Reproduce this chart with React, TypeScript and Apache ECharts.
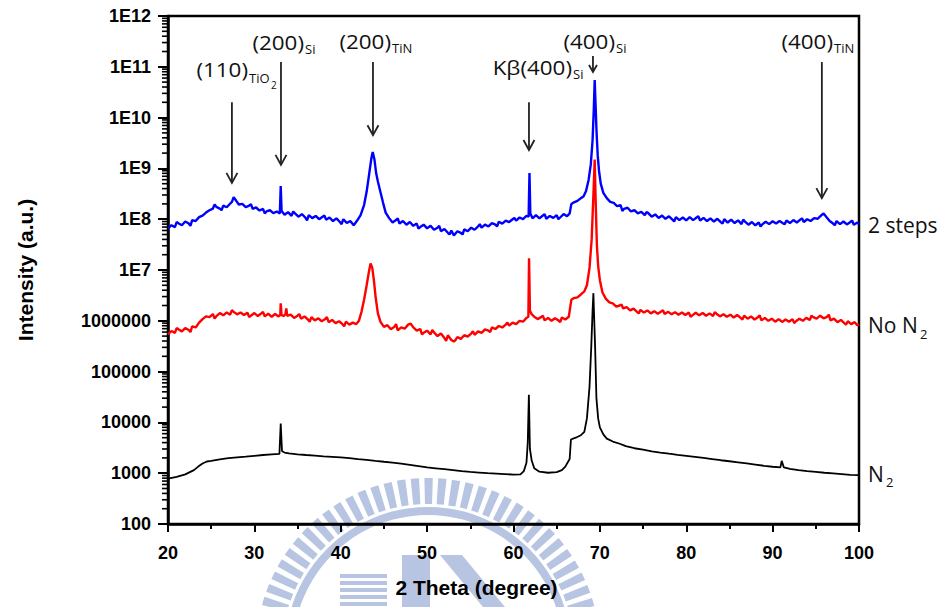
import React, { useEffect, useRef } from 'react';
import * as echarts from 'echarts';

// ---------- data ----------
const xTickValues = [20, 30, 40, 50, 60, 70, 80, 90, 100];
const yTickValues = [1e2, 1e3, 1e4, 1e5, 1e6, 1e7, 1e8, 1e9, 1e10, 1e11, 1e12];
const yTickLabels = ['100', '1000', '10000', '100000', '1000000', '1E7', '1E8', '1E9', '1E10', '1E11', '1E12'];

// 2 steps (blue)
const twoSteps: [number, number][] = [
  [20,6.6e7],[20.4,7.6e7],[20.8,7.0e7],[21.2,8.3e7],[21.6,7.6e7],[22,9.0e7],[22.4,8.2e7],[22.8,9.6e7],[23.2,9.2e7],[23.6,1.1e8],
  [24,1.18e8],[24.4,1.35e8],[24.8,1.5e8],[25.2,1.62e8],[25.6,1.75e8],[26,1.62e8],[26.4,1.85e8],[26.8,1.72e8],[27.1,1.95e8],[27.4,2.2e8],
  [27.6,2.7e8],[27.9,2.3e8],[28.2,1.95e8],[28.6,2.0e8],[29,1.72e8],[29.4,1.85e8],[29.8,1.6e8],[30.2,1.7e8],[30.6,1.48e8],[31,1.6e8],
  [31.4,1.42e8],[31.8,1.5e8],[32.2,1.32e8],[32.6,1.42e8],[32.95,1.3e8],[33.05,4.5e8],[33.15,1.45e8],[33.5,1.22e8],[33.9,1.38e8],[34.3,1.16e8],
  [34.7,1.3e8],[35.1,1.12e8],[35.5,1.26e8],[35.9,1.08e8],[36.3,1.2e8],[36.7,1.05e8],[37.1,1.16e8],[37.5,1.0e8],[37.9,1.12e8],[38.3,9.8e7],
  [38.7,1.08e8],[39.1,9.2e7],[39.5,1.04e8],[39.9,8.8e7],[40.3,1.0e8],[40.7,8.4e7],[41.1,9.2e7],[41.5,7.6e7],[41.9,9.4e7],[42.3,1.2e8],
  [42.7,1.9e8],[43.0,3.5e8],[43.3,8e8],[43.55,1.6e9],[43.7,2.1e9],[43.9,1.5e9],[44.1,8e8],[44.3,5.5e8],[44.6,3.4e8],[44.9,2.1e8],
  [45.2,1.35e8],[45.6,1.05e8],[46,8.6e7],[46.4,9.6e7],[46.8,8.2e7],[47.2,9.2e7],[47.6,7.8e7],[48,8.8e7],[48.4,7.4e7],[48.8,8.2e7],
  [49.2,7.0e7],[49.6,7.8e7],[50,6.6e7],[50.4,7.4e7],[50.8,6.2e7],[51.2,6.8e7],[51.6,5.8e7],[52,6.4e7],[52.4,5.4e7],[52.8,6.0e7],
  [53.1,4.8e7],[53.5,5.8e7],[53.9,5.4e7],[54.3,6.3e7],[54.7,5.8e7],[55.1,6.8e7],[55.5,6.2e7],[55.9,7.2e7],[56.3,6.8e7],[56.7,7.8e7],
  [57.1,7.2e7],[57.5,8.4e7],[57.9,7.8e7],[58.3,8.9e7],[58.7,8.2e7],[59.1,9.4e7],[59.5,8.8e7],[59.9,1.0e8],[60.3,9.4e7],[60.7,1.08e8],
  [61.1,1.0e8],[61.5,1.16e8],[61.75,1.12e8],[61.85,8.1e8],[61.95,1.3e8],[62.2,1.04e8],[62.6,1.2e8],[63,1.04e8],[63.4,1.18e8],[63.8,1.02e8],
  [64.2,1.16e8],[64.6,1.06e8],[65,1.2e8],[65.4,1.08e8],[65.8,1.26e8],[66.2,1.14e8],[66.5,1.3e8],[66.7,2.0e8],[67,2.15e8],[67.4,2.3e8],
  [67.8,2.6e8],[68.1,2.8e8],[68.4,3.6e8],[68.7,6e8],[68.95,1.2e9],[69.15,3.5e9],[69.3,1.5e10],[69.4,5.5e10],[69.5,1.8e10],[69.62,5e9],
  [69.75,1.8e9],[69.9,9e8],[70.1,5e8],[70.4,3.3e8],[70.8,2.6e8],[71.2,2.2e8],[71.6,2.1e8],[72,1.8e8],[72.4,1.9e8],[72.8,1.6e8],
  [73.2,1.68e8],[73.6,1.42e8],[74,1.5e8],[74.4,1.3e8],[74.8,1.4e8],[75.2,1.2e8],[75.6,1.32e8],[76,1.12e8],[76.4,1.24e8],[76.8,1.06e8],
  [77.2,1.18e8],[77.6,1.02e8],[78,1.14e8],[78.4,9.8e7],[78.8,1.1e8],[79.2,9.6e7],[79.6,1.08e8],[80,9.5e7],[80.4,1.1e8],[80.8,9.6e7],
  [81.2,1.08e8],[81.6,9.4e7],[82,1.06e8],[82.4,9.2e7],[82.8,1.04e8],[83.2,9.0e7],[83.6,1.02e8],[84,8.8e7],[84.4,1.0e8],[84.8,8.6e7],
  [85.2,9.8e7],[85.6,8.4e7],[86,9.5e7],[86.4,8.0e7],[86.8,9.0e7],[87.2,7.8e7],[87.6,8.8e7],[88,7.6e7],[88.4,8.6e7],[88.8,7.9e7],
  [89.2,8.9e7],[89.6,8.0e7],[90,9.1e7],[90.4,8.2e7],[90.8,9.2e7],[91.2,8.3e7],[91.6,9.4e7],[92,8.4e7],[92.4,9.6e7],[92.8,8.6e7],
  [93.2,9.8e7],[93.6,8.8e7],[94,1.0e8],[94.4,9.2e7],[94.8,1.05e8],[95.2,1.02e8],[95.6,1.18e8],[95.9,1.3e8],[96.2,1.12e8],[96.6,9.2e7],
  [97,8.2e7],[97.4,9.2e7],[97.8,8.0e7],[98.2,9.0e7],[98.6,7.9e7],[99,8.8e7],[99.4,7.8e7],[99.8,8.6e7],[100,8.0e7],
];
// extra noise spikes
const twoStepsSpikes: [number, number][] = [
  [21.0,8.8e7],[22.6,7.4e7],[25.4,1.95e8],[26.2,1.5e8],[29.6,1.98e8],[31.2,1.3e8],[34.5,1.42e8],[36.1,9.5e7],[38.1,1.18e8],[40.1,8.0e7],
  [46.6,1.04e8],[49.0,6.5e7],[51.4,7.4e7],[52.6,5.0e7],[54.1,5.0e7],[56.1,8.0e7],[58.1,7.2e7],[60.1,1.06e8],[63.6,1.26e8],[65.2,1.0e8],
  [72.6,1.45e8],[75.4,1.38e8],[78.6,9.0e7],[81.4,1.14e8],[84.2,8.2e7],[86.6,9.8e7],[88.6,7.2e7],[91.4,8.0e7],[93.4,1.04e8],[97.2,7.6e7],[99.2,9.4e7],
];

// No N2 (red)
const noN2: [number, number][] = [
  [20,5.4e5],[20.4,6.3e5],[20.8,5.8e5],[21.2,6.8e5],[21.6,6.2e5],[22,7.2e5],[22.4,6.6e5],[22.8,7.8e5],[23.2,7.4e5],[23.6,9.2e5],
  [24,1.08e6],[24.4,1.22e6],[24.8,1.18e6],[25.2,1.36e6],[25.6,1.24e6],[26,1.42e6],[26.4,1.28e6],[26.8,1.46e6],[27.2,1.32e6],[27.6,1.5e6],
  [28,1.34e6],[28.4,1.46e6],[28.8,1.3e6],[29.2,1.44e6],[29.6,1.26e6],[30,1.42e6],[30.4,1.24e6],[30.8,1.4e6],[31.2,1.22e6],[31.6,1.38e6],
  [32,1.2e6],[32.4,1.36e6],[32.8,1.22e6],[33,1.3e6],[33.05,2.2e6],[33.15,1.3e6],[33.4,1.24e6],[33.6,1.36e6],[33.7,1.75e6],[33.8,1.25e6],
  [34.2,1.32e6],[34.6,1.14e6],[35,1.26e6],[35.4,1.1e6],[35.8,1.22e6],[36.2,1.06e6],[36.6,1.18e6],[37,1.02e6],[37.4,1.12e6],[37.8,9.8e5],
  [38.2,1.08e6],[38.6,9.4e5],[39,1.04e6],[39.4,9.0e5],[39.8,9.8e5],[40.2,8.6e5],[40.6,9.6e5],[41,8.4e5],[41.4,9.2e5],[41.8,8.6e5],
  [42.1,1.0e6],[42.4,1.5e6],[42.7,2.6e6],[43.0,5e6],[43.25,9e6],[43.45,1.35e7],[43.65,1.1e7],[43.85,6e6],[44.05,2.8e6],[44.3,1.4e6],
  [44.6,9.5e5],[45,7.6e5],[45.4,8.2e5],[45.8,6.8e5],[46.2,7.6e5],[46.6,6.5e5],[47,7.4e5],[47.4,7.0e5],[47.8,8.4e5],[48.1,8.8e5],
  [48.4,7.4e5],[48.8,6.4e5],[49.2,6.9e5],[49.6,5.8e5],[50,6.4e5],[50.4,5.4e5],[50.8,5.9e5],[51.2,5.0e5],[51.6,5.6e5],[52,4.6e5],
  [52.4,5.2e5],[52.8,4.2e5],[53.1,3.9e5],[53.5,4.8e5],[53.9,4.4e5],[54.3,5.2e5],[54.7,4.9e5],[55.1,5.6e5],[55.5,5.3e5],[55.9,6.2e5],
  [56.3,5.8e5],[56.7,6.8e5],[57.1,6.4e5],[57.5,7.4e5],[57.9,6.9e5],[58.3,7.9e5],[58.7,7.4e5],[59.1,8.4e5],[59.5,8.0e5],[59.9,9.2e5],
  [60.3,8.6e5],[60.7,1.0e6],[61.1,9.6e5],[61.5,1.14e6],[61.72,1.2e6],[61.8,1.7e7],[61.9,1.6e6],[62.1,1.35e6],[62.4,1.2e6],[62.8,1.08e6],
  [63.2,1.18e6],[63.6,1.02e6],[64,1.14e6],[64.4,1.0e6],[64.8,1.12e6],[65.2,1.02e6],[65.6,1.16e6],[66,1.06e6],[66.4,1.2e6],[66.7,2.6e6],
  [67,2.8e6],[67.4,2.9e6],[67.8,3.3e6],[68.2,3.8e6],[68.5,5e6],[68.8,1.1e7],[69.05,4e7],[69.25,3e8],[69.4,1.5e9],[69.52,2e8],
  [69.65,3.2e7],[69.8,1.2e7],[70.0,6.3e6],[70.3,3.6e6],[70.7,2.7e6],[71.1,2.3e6],[71.5,2.2e6],[71.9,1.9e6],[72.3,2.0e6],[72.7,1.75e6],
  [73.1,1.85e6],[73.5,1.6e6],[73.9,1.74e6],[74.3,1.5e6],[74.7,1.64e6],[75.1,1.45e6],[75.5,1.6e6],[75.9,1.4e6],[76.3,1.55e6],[76.7,1.38e6],
  [77.1,1.52e6],[77.5,1.36e6],[77.9,1.5e6],[78.3,1.34e6],[78.7,1.48e6],[79.1,1.32e6],[79.5,1.46e6],[79.9,1.3e6],[80.3,1.45e6],[80.7,1.28e6],
  [81.1,1.44e6],[81.5,1.28e6],[81.9,1.42e6],[82.3,1.26e6],[82.7,1.4e6],[83.1,1.24e6],[83.5,1.38e6],[83.9,1.22e6],[84.3,1.35e6],[84.7,1.2e6],
  [85.1,1.32e6],[85.5,1.16e6],[85.9,1.3e6],[86.3,1.14e6],[86.7,1.26e6],[87.1,1.1e6],[87.5,1.22e6],[87.9,1.06e6],[88.3,1.18e6],[88.7,1.02e6],
  [89.1,1.14e6],[89.5,1.0e6],[89.9,1.1e6],[90.3,9.6e5],[90.7,1.08e6],[91.1,9.5e5],[91.5,1.06e6],[91.9,9.6e5],[92.3,1.08e6],[92.7,9.8e5],
  [93.1,1.1e6],[93.5,1.0e6],[93.9,1.14e6],[94.3,1.04e6],[94.7,1.18e6],[95.1,1.1e6],[95.5,1.26e6],[95.9,1.12e6],[96.3,1.2e6],[96.7,1.02e6],
  [97.1,1.1e6],[97.5,9.4e5],[97.9,1.04e6],[98.3,9.0e5],[98.7,9.8e5],[99.1,8.6e5],[99.5,9.4e5],[99.8,8.2e5],[100,8.6e5],
];
// extra noise spikes
const noN2Spikes: [number, number][] = [
  [21.0,7.2e5],[22.6,6.0e5],[25.4,1.1e6],[27.4,1.62e6],[29.4,1.18e6],[31.0,1.5e6],[35.2,1.36e6],[36.4,9.6e5],[38.4,1.18e6],[40.4,7.8e5],
  [46.4,8.6e5],[49.4,5.4e5],[50.6,6.6e5],[52.2,4.0e5],[53.3,4.2e5],[55.3,6.2e5],[57.3,6.0e5],[59.3,9.2e5],[63.4,1.26e6],[65.4,9.4e5],
  [72.5,2.1e6],[74.5,1.4e6],[77.3,1.62e6],[80.5,1.2e6],[83.3,1.48e6],[86.5,1.06e6],[88.5,1.28e6],[92.5,9.0e5],[94.5,1.26e6],[96.5,1.32e6],[98.5,8.4e5],
];

// N2 (black)
const n2: [number, number][] = [
  [20,780],[21,850],[22,950],[23,1150],[23.5,1350],[24,1550],[24.5,1700],[25,1750],[26,1880],[27,1980],
  [28,2050],[29,2120],[30,2200],[31,2280],[32,2350],[32.9,2400],[33.05,9500],[33.2,2700],[33.5,2550],[34,2450],
  [35,2350],[36,2280],[37,2220],[38,2150],[39,2100],[40,2050],[41,1980],[42,1900],[43,1830],[44,1750],
  [45,1680],[46,1620],[47,1540],[48,1460],[49,1380],[50,1300],[51,1250],[52,1200],[53,1150],[54,1100],
  [55,1060],[56,1030],[57,1000],[58,980],[59,960],[60,940],[60.8,950],[61.2,1100],[61.5,1600],[61.65,4000],
  [61.78,35000],[61.9,3000],[62.1,1800],[62.4,1250],[63,1070],[64,1020],[65,1050],[65.6,1150],[66.0,1350],[66.5,1900],
  [66.65,4600],[67.2,5000],[67.8,5600],[68.2,6500],[68.5,12000],[68.8,50000],[69.0,3e5],[69.15,1.5e6],[69.25,3.5e6],[69.35,1e6],
  [69.45,3e5],[69.6,3e4],[69.8,1.2e4],[70.0,8000],[70.4,5800],[70.8,4800],[71.5,4200],[72.3,3800],[73,3400],[74,3100],
  [75,2900],[76,2700],[77,2550],[78,2420],[79,2300],[80,2200],[81,2100],[82,2000],[83,1900],[84,1800],
  [85,1720],[86,1640],[87,1560],[88,1480],[89,1400],[90,1340],[90.9,1300],[91.05,1750],[91.3,1300],[92,1220],
  [93,1150],[94,1100],[95,1060],[96,1020],[97,990],[98,960],[99,930],[100,920],
];

// annotation arrows: [2theta, top intensity, tip intensity]
const arrows: [number, number, number][] = [
  [27.4, 2.0e10, 5.2e8],
  [33.08, 1.24e11, 1.17e9],
  [43.73, 1.24e11, 4.5e9],
  [61.79, 2.0e10, 2.3e9],
  [69.2, 1.63e11, 7.9e10],
  [95.7, 1.24e11, 2.6e8],
];

const merge = (a: [number, number][], b: [number, number][]) => [...a, ...b].sort((p, q) => p[0] - q[0]);

export default function App() {
  const ref = useRef<HTMLDivElement>(null);

  useEffect(() => {
    document.body.style.margin = '0';
    const chart = echarts.init(ref.current!, undefined, { renderer: 'svg' });

    // log minor ticks (2..9 per decade)
    const yMinorTicks: [number, number][] = [];
    for (let i = 0; i < yTickValues.length - 1; i++) {
      for (let k = 2; k <= 9; k++) yMinorTicks.push([20, k * yTickValues[i]]);
    }

    const labelFont = '"Liberation Sans", Arial, sans-serif';
    const annFont = '"Open Sans", sans-serif';
    const wm = '#b7c5e2';

    const txt = (text: string, x: number, y: number, size: number, align: string, scaleX = 1) => ({
      type: 'text', x, y, scaleX, z: 20, silent: true,
      style: {
        text, fontSize: size, fontFamily: annFont, fill: '#111',
        align, verticalAlign: 'middle', textAlign: align, textVerticalAlign: 'middle',
      },
    });

    const wmEls: any[] = [];
    for (let a = 163; a <= 378; a += 4.6) {
      wmEls.push({
        type: 'sector', z: -10, silent: true,
        shape: { cx: 428, cy: 650, r0: 146, r: 172, startAngle: (a * Math.PI) / 180, endAngle: ((a + 2.8) * Math.PI) / 180 },
        style: { fill: wm },
      });
    }
    wmEls.push({ type: 'ring', z: -10, silent: true, shape: { cx: 428, cy: 650, r: 143, r0: 135 }, style: { fill: wm } });
    for (let i = 0; i < 5; i++) {
      wmEls.push({ type: 'rect', z: -10, silent: true, shape: { x: 340, y: 574 + i * 7, width: 47, height: 4 }, style: { fill: wm } });
    }
    wmEls.push({ type: 'rect', z: -10, silent: true, shape: { x: 402, y: 555, width: 28, height: 52 }, style: { fill: wm } });
    wmEls.push({ type: 'polygon', z: -10, silent: true, shape: { points: [[440, 555], [462, 555], [505, 607], [483, 607]] }, style: { fill: wm } });

    const textEls = [
      txt('(110)', 248, 69, 20, 'right', 1.12),
      txt('TiO', 249, 78, 13, 'left'),
      txt('2', 271, 85, 10, 'left'),
      txt('(200)', 304, 42, 20, 'right', 1.12),
      txt('Si', 305, 49, 13, 'left'),
      txt('(200)', 391, 41, 20, 'right', 1.12),
      txt('TiN', 392, 48, 13, 'left'),
      txt('Kβ(400)', 572, 67, 20, 'right', 1.12),
      txt('Si', 573, 74, 13, 'left'),
      txt('(400)', 615, 41, 20, 'right', 1.12),
      txt('Si', 616, 48, 13, 'left'),
      txt('(400)', 833, 41, 20, 'right', 1.12),
      txt('TiN', 834, 48, 13, 'left'),
      txt('2 steps', 868, 225, 21, 'left'),
      txt('No N', 868, 325, 21, 'left'),
      txt('2', 920, 334, 13, 'left'),
      txt('N', 868, 474, 21, 'left'),
      txt('2', 886, 482, 13, 'left'),
    ];

    chart.setOption({
      animation: false,
      backgroundColor: '#fff',
      grid: { left: 168, top: 16, right: 87, bottom: 83, show: true, borderColor: '#000', borderWidth: 2.5 },
      xAxis: {
        type: 'value', min: 20, max: 100, interval: 10,
        name: '2 Theta (degree)', nameLocation: 'middle', nameGap: 53,
        nameTextStyle: { fontSize: 21, fontWeight: 'bold', fontFamily: labelFont, color: '#000', padding: [0, 74, 0, 0] },
        axisLine: { show: true, lineStyle: { color: '#000', width: 2.5 } },
        axisTick: { show: true, inside: false, length: 8, lineStyle: { color: '#000', width: 2 } },
        minorTick: { show: true, splitNumber: 2, length: 5, lineStyle: { color: '#000', width: 2 } },
        splitLine: { show: false },
        axisLabel: {
          margin: 20, fontSize: 18, fontWeight: 'bold', fontFamily: labelFont, color: '#000',
          formatter: (v: number) => (xTickValues.includes(v) ? String(v) : ''),
        },
      },
      yAxis: {
        type: 'log', logBase: 10, min: 1e2, max: 1e12, splitNumber: 10,
        name: 'Intensity (a.u.)', nameLocation: 'middle', nameGap: 132, nameRotate: 90,
        nameTextStyle: { fontSize: 21, fontWeight: 'bold', fontFamily: labelFont, color: '#000' },
        axisLine: { show: true, lineStyle: { color: '#000', width: 2.5 } },
        axisTick: { show: true, inside: false, length: 10, lineStyle: { color: '#000', width: 2 } },
        splitLine: { show: false },
        axisLabel: {
          margin: 17, fontSize: 18, fontWeight: 'bold', fontFamily: labelFont, color: '#000',
          formatter: (v: number) => {
            const i = yTickValues.findIndex((t) => Math.abs(Math.log10(t) - Math.log10(v)) < 1e-6);
            return i >= 0 ? yTickLabels[i] : '';
          },
        },
      },
      graphic: { elements: [...wmEls, ...textEls] },
      series: [
        { name: '2 steps', type: 'line', data: merge(twoSteps, twoStepsSpikes), showSymbol: false, clip: true, lineStyle: { color: '#0000ff', width: 2.4 }, z: 3 },
        { name: 'No N2', type: 'line', data: merge(noN2, noN2Spikes), showSymbol: false, clip: true, lineStyle: { color: '#ff0000', width: 2.4 }, z: 4 },
        { name: 'N2', type: 'line', data: n2, showSymbol: false, clip: true, lineStyle: { color: '#000', width: 1.8 }, z: 5 },
        {
          type: 'custom', data: yMinorTicks, encode: { x: 0, y: 1 }, silent: true, clip: false, z: 6,
          renderItem: (_p: any, api: any) => {
            const p = api.coord([api.value(0), api.value(1)]);
            return { type: 'line', shape: { x1: p[0] - 6, y1: p[1], x2: p[0], y2: p[1] }, style: { stroke: '#000', lineWidth: 1.6 } };
          },
        },
        {
          type: 'custom', data: arrows, encode: { x: 0, y: [1, 2] }, silent: true, clip: false, z: 7,
          renderItem: (_p: any, api: any) => {
            const top = api.coord([api.value(0), api.value(1)]);
            const tip = api.coord([api.value(0), api.value(2)]);
            const len = tip[1] - top[1];
            const h = len < 25 ? 7 : 10;
            const w = len < 25 ? 4 : 5.5;
            return {
              type: 'group',
              children: [
                { type: 'line', shape: { x1: top[0], y1: top[1], x2: tip[0], y2: tip[1] }, style: { stroke: '#222', lineWidth: 1.8 } },
                { type: 'polyline', shape: { points: [[tip[0] - w, tip[1] - h], [tip[0], tip[1]], [tip[0] + w, tip[1] - h]] }, style: { stroke: '#222', lineWidth: 1.8, fill: 'none' } },
              ],
            };
          },
        },
      ],
    });

    return () => chart.dispose();
  }, []);

  return <div ref={ref} style={{ width: 946, height: 607 }} />;
}
